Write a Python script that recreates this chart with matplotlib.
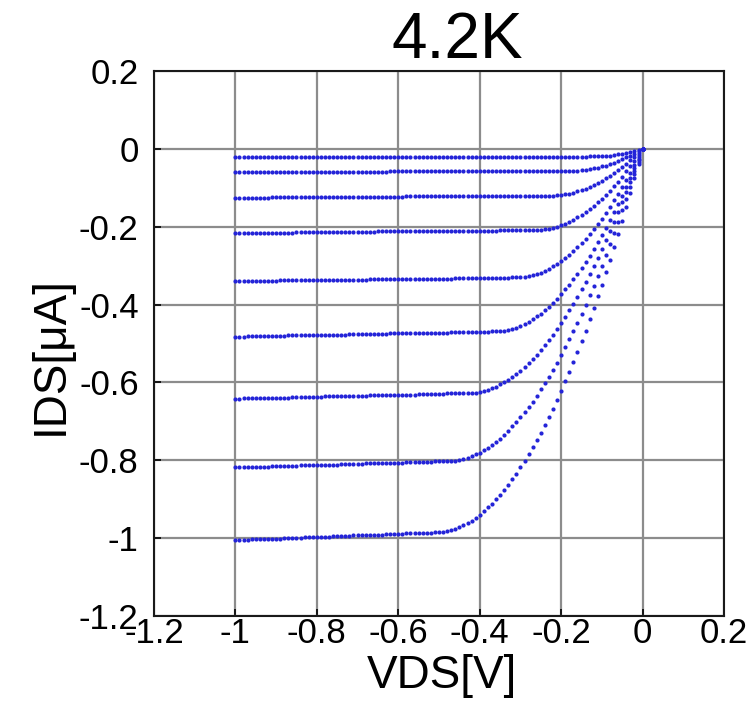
import numpy as np
import matplotlib.pyplot as plt

# drain sweep, -1 V to 0 V in 10 mV steps
vds = np.linspace(-1.0, 0.0, 101)

# IDS [uA], one list per gate bias, smallest |IDS| first
ids_1 = [
    -0.021, -0.021, -0.021, -0.021, -0.021, -0.021, -0.021, -0.021, -0.021, -0.021,
    -0.021, -0.021, -0.021, -0.021, -0.021, -0.021, -0.021, -0.021, -0.021, -0.021,
    -0.021, -0.021, -0.021, -0.021, -0.021, -0.021, -0.021, -0.021, -0.021, -0.021,
    -0.021, -0.021, -0.021, -0.021, -0.021, -0.021, -0.021, -0.021, -0.021, -0.021,
    -0.021, -0.021, -0.021, -0.021, -0.021, -0.021, -0.021, -0.021, -0.021, -0.021,
    -0.020, -0.020, -0.020, -0.020, -0.020, -0.020, -0.020, -0.020, -0.020, -0.020,
    -0.020, -0.020, -0.020, -0.020, -0.020, -0.020, -0.020, -0.020, -0.020, -0.020,
    -0.020, -0.020, -0.020, -0.020, -0.020, -0.020, -0.020, -0.020, -0.020, -0.020,
    -0.020, -0.020, -0.020, -0.020, -0.020, -0.020, -0.020, -0.019, -0.019, -0.019,
    -0.018, -0.018, -0.017, -0.015, -0.014, -0.012, -0.010, -0.008, -0.006, -0.003,
    0.0,
]
ids_2 = [
    -0.060, -0.060, -0.060, -0.060, -0.060, -0.060, -0.060, -0.060, -0.060, -0.060,
    -0.060, -0.060, -0.060, -0.059, -0.059, -0.059, -0.059, -0.059, -0.059, -0.059,
    -0.059, -0.059, -0.059, -0.059, -0.059, -0.059, -0.059, -0.059, -0.059, -0.059,
    -0.059, -0.059, -0.059, -0.059, -0.059, -0.059, -0.059, -0.059, -0.058, -0.058,
    -0.058, -0.058, -0.058, -0.058, -0.058, -0.058, -0.058, -0.058, -0.058, -0.058,
    -0.058, -0.058, -0.058, -0.058, -0.058, -0.058, -0.058, -0.058, -0.058, -0.058,
    -0.058, -0.058, -0.058, -0.057, -0.057, -0.057, -0.057, -0.057, -0.057, -0.057,
    -0.057, -0.057, -0.057, -0.057, -0.057, -0.057, -0.057, -0.057, -0.057, -0.057,
    -0.057, -0.057, -0.057, -0.057, -0.056, -0.055, -0.054, -0.052, -0.050, -0.048,
    -0.045, -0.043, -0.039, -0.036, -0.032, -0.027, -0.022, -0.017, -0.012, -0.006,
    0.0,
]
ids_3 = [
    -0.125, -0.125, -0.125, -0.125, -0.125, -0.125, -0.125, -0.125, -0.125, -0.124,
    -0.124, -0.124, -0.124, -0.124, -0.124, -0.124, -0.124, -0.124, -0.124, -0.124,
    -0.124, -0.124, -0.124, -0.124, -0.124, -0.124, -0.123, -0.123, -0.123, -0.123,
    -0.123, -0.123, -0.123, -0.123, -0.123, -0.123, -0.123, -0.123, -0.123, -0.123,
    -0.123, -0.123, -0.122, -0.122, -0.122, -0.122, -0.122, -0.122, -0.122, -0.122,
    -0.122, -0.122, -0.122, -0.122, -0.122, -0.122, -0.122, -0.122, -0.122, -0.121,
    -0.121, -0.121, -0.121, -0.121, -0.121, -0.121, -0.121, -0.121, -0.121, -0.121,
    -0.121, -0.121, -0.121, -0.121, -0.121, -0.121, -0.120, -0.120, -0.120, -0.119,
    -0.118, -0.117, -0.115, -0.112, -0.109, -0.106, -0.102, -0.098, -0.093, -0.088,
    -0.082, -0.076, -0.069, -0.062, -0.055, -0.047, -0.038, -0.029, -0.020, -0.010,
    0.0,
]
ids_4 = [
    -0.216, -0.216, -0.216, -0.216, -0.216, -0.215, -0.215, -0.215, -0.215, -0.215,
    -0.215, -0.215, -0.215, -0.215, -0.215, -0.214, -0.214, -0.214, -0.214, -0.214,
    -0.214, -0.214, -0.214, -0.214, -0.214, -0.213, -0.213, -0.213, -0.213, -0.213,
    -0.213, -0.213, -0.213, -0.213, -0.213, -0.212, -0.212, -0.212, -0.212, -0.212,
    -0.212, -0.212, -0.212, -0.212, -0.212, -0.211, -0.211, -0.211, -0.211, -0.211,
    -0.211, -0.211, -0.211, -0.211, -0.211, -0.210, -0.210, -0.210, -0.210, -0.210,
    -0.210, -0.210, -0.210, -0.210, -0.210, -0.209, -0.209, -0.209, -0.209, -0.209,
    -0.209, -0.209, -0.209, -0.209, -0.209, -0.208, -0.207, -0.205, -0.203, -0.200,
    -0.196, -0.192, -0.187, -0.182, -0.176, -0.169, -0.162, -0.154, -0.146, -0.137,
    -0.128, -0.118, -0.107, -0.096, -0.084, -0.071, -0.058, -0.044, -0.030, -0.015,
    0.0,
]
ids_5 = [
    -0.340, -0.340, -0.340, -0.340, -0.339, -0.339, -0.339, -0.339, -0.339, -0.339,
    -0.339, -0.338, -0.338, -0.338, -0.338, -0.338, -0.338, -0.338, -0.337, -0.337,
    -0.337, -0.337, -0.337, -0.337, -0.337, -0.337, -0.336, -0.336, -0.336, -0.336,
    -0.336, -0.336, -0.336, -0.335, -0.335, -0.335, -0.335, -0.335, -0.335, -0.335,
    -0.334, -0.334, -0.334, -0.334, -0.334, -0.334, -0.334, -0.333, -0.333, -0.333,
    -0.333, -0.333, -0.333, -0.333, -0.332, -0.332, -0.332, -0.332, -0.332, -0.332,
    -0.332, -0.331, -0.331, -0.331, -0.331, -0.331, -0.331, -0.331, -0.330, -0.330,
    -0.330, -0.329, -0.327, -0.325, -0.322, -0.318, -0.313, -0.308, -0.302, -0.296,
    -0.289, -0.281, -0.272, -0.263, -0.253, -0.242, -0.231, -0.219, -0.206, -0.193,
    -0.179, -0.164, -0.148, -0.132, -0.116, -0.098, -0.080, -0.061, -0.041, -0.021,
    0.0,
]
ids_6 = [
    -0.482, -0.482, -0.482, -0.481, -0.481, -0.481, -0.481, -0.481, -0.480, -0.480,
    -0.480, -0.480, -0.480, -0.479, -0.479, -0.479, -0.479, -0.479, -0.478, -0.478,
    -0.478, -0.478, -0.478, -0.477, -0.477, -0.477, -0.477, -0.477, -0.476, -0.476,
    -0.476, -0.476, -0.476, -0.475, -0.475, -0.475, -0.475, -0.475, -0.474, -0.474,
    -0.474, -0.474, -0.474, -0.473, -0.473, -0.473, -0.473, -0.473, -0.472, -0.472,
    -0.472, -0.472, -0.472, -0.471, -0.471, -0.471, -0.471, -0.471, -0.470, -0.470,
    -0.470, -0.470, -0.470, -0.469, -0.469, -0.469, -0.467, -0.465, -0.462, -0.459,
    -0.454, -0.450, -0.444, -0.438, -0.430, -0.423, -0.414, -0.405, -0.395, -0.385,
    -0.373, -0.361, -0.349, -0.335, -0.321, -0.307, -0.291, -0.275, -0.258, -0.240,
    -0.222, -0.203, -0.183, -0.163, -0.142, -0.120, -0.097, -0.074, -0.050, -0.025,
    0.0,
]
ids_7 = [
    -0.642, -0.642, -0.641, -0.641, -0.641, -0.641, -0.640, -0.640, -0.640, -0.640,
    -0.639, -0.639, -0.639, -0.639, -0.638, -0.638, -0.638, -0.638, -0.637, -0.637,
    -0.637, -0.637, -0.636, -0.636, -0.636, -0.636, -0.635, -0.635, -0.635, -0.634,
    -0.634, -0.634, -0.634, -0.633, -0.633, -0.633, -0.633, -0.632, -0.632, -0.632,
    -0.632, -0.631, -0.631, -0.631, -0.631, -0.630, -0.630, -0.630, -0.630, -0.629,
    -0.629, -0.629, -0.628, -0.628, -0.628, -0.628, -0.627, -0.627, -0.627, -0.626,
    -0.624, -0.622, -0.619, -0.615, -0.611, -0.605, -0.600, -0.593, -0.586, -0.578,
    -0.570, -0.561, -0.551, -0.540, -0.529, -0.517, -0.505, -0.492, -0.478, -0.463,
    -0.448, -0.432, -0.415, -0.398, -0.380, -0.361, -0.342, -0.322, -0.301, -0.280,
    -0.258, -0.235, -0.212, -0.188, -0.163, -0.137, -0.111, -0.084, -0.057, -0.029,
    0.0,
]
ids_8 = [
    -0.818, -0.818, -0.817, -0.817, -0.817, -0.817, -0.816, -0.816, -0.816, -0.815,
    -0.815, -0.815, -0.814, -0.814, -0.814, -0.814, -0.813, -0.813, -0.813, -0.812,
    -0.812, -0.812, -0.811, -0.811, -0.811, -0.811, -0.810, -0.810, -0.810, -0.809,
    -0.809, -0.809, -0.808, -0.808, -0.808, -0.808, -0.807, -0.807, -0.807, -0.806,
    -0.806, -0.806, -0.805, -0.805, -0.805, -0.805, -0.804, -0.804, -0.804, -0.803,
    -0.803, -0.803, -0.802, -0.802, -0.801, -0.799, -0.797, -0.794, -0.790, -0.785,
    -0.780, -0.774, -0.768, -0.760, -0.752, -0.744, -0.734, -0.724, -0.713, -0.702,
    -0.690, -0.677, -0.663, -0.649, -0.634, -0.618, -0.602, -0.585, -0.567, -0.549,
    -0.529, -0.510, -0.489, -0.468, -0.446, -0.423, -0.400, -0.376, -0.351, -0.326,
    -0.300, -0.273, -0.245, -0.217, -0.188, -0.158, -0.128, -0.097, -0.065, -0.033,
    0.0,
]
ids_9 = [
    -1.005, -1.005, -1.004, -1.004, -1.003, -1.003, -1.003, -1.002, -1.002, -1.001,
    -1.001, -1.001, -1.000, -1.000, -0.999, -0.999, -0.999, -0.998, -0.998, -0.997,
    -0.997, -0.997, -0.996, -0.996, -0.995, -0.995, -0.995, -0.994, -0.994, -0.993,
    -0.993, -0.993, -0.992, -0.992, -0.991, -0.991, -0.991, -0.990, -0.990, -0.989,
    -0.989, -0.989, -0.988, -0.988, -0.987, -0.987, -0.987, -0.986, -0.986, -0.985,
    -0.985, -0.984, -0.982, -0.979, -0.976, -0.972, -0.967, -0.961, -0.955, -0.948,
    -0.940, -0.931, -0.921, -0.911, -0.900, -0.888, -0.876, -0.863, -0.849, -0.834,
    -0.818, -0.802, -0.785, -0.767, -0.749, -0.729, -0.709, -0.688, -0.667, -0.644,
    -0.621, -0.597, -0.573, -0.547, -0.521, -0.494, -0.467, -0.438, -0.409, -0.379,
    -0.349, -0.317, -0.285, -0.252, -0.218, -0.184, -0.149, -0.113, -0.076, -0.038,
    0.0,
]
curves = [ids_1, ids_2, ids_3, ids_4, ids_5, ids_6, ids_7, ids_8, ids_9]

ticks = [-1.2, -1.0, -0.8, -0.6, -0.4, -0.2, 0.0, 0.2]
tick_labels = ['-1.2', '-1', '-0.8', '-0.6', '-0.4', '-0.2', '0', '0.2']


def main():
    plt.rcParams['font.family'] = ['Liberation Sans', 'DejaVu Sans']

    fig = plt.figure(figsize=(7.53, 7.12), dpi=100)
    ax = fig.add_axes([0.2045, 0.1348, 0.757, 0.7654])

    for ids in curves:
        ax.plot(vds, ids, 'o', color='#2424d8', markersize=3.0,
                markeredgewidth=0, zorder=3)

    ax.set_xlim(-1.2, 0.2)
    ax.set_ylim(-1.2, 0.2)
    ax.set_xticks(ticks)
    ax.set_xticklabels(tick_labels)
    ax.set_yticks(ticks)
    ax.set_yticklabels(tick_labels)
    ax.tick_params(direction='in', length=5, width=1.2, labelsize=25,
                   top=False, right=False)
    ax.tick_params(axis='x', pad=1)
    ax.tick_params(axis='y', pad=11)
    ax.grid(True, color='#8c8c8c', linewidth=1.6)
    ax.set_axisbelow(True)
    for s in ax.spines.values():
        s.set_linewidth(1.5)
        s.set_color('#1a1a1a')

    fig.text(0.587, 0.050, 'VDS[V]', ha='center', va='center', fontsize=33)
    fig.text(0.068, 0.50, 'IDS[μA]', ha='center', va='center', fontsize=33,
             rotation=90)
    fig.text(0.607, 0.943, '4.2K', ha='center', va='center', fontsize=46,
             family=['Liberation Sans Narrow', 'Liberation Sans', 'DejaVu Sans'])

    fig.savefig('out.png', dpi=100)


if __name__ == "__main__":
    main()
